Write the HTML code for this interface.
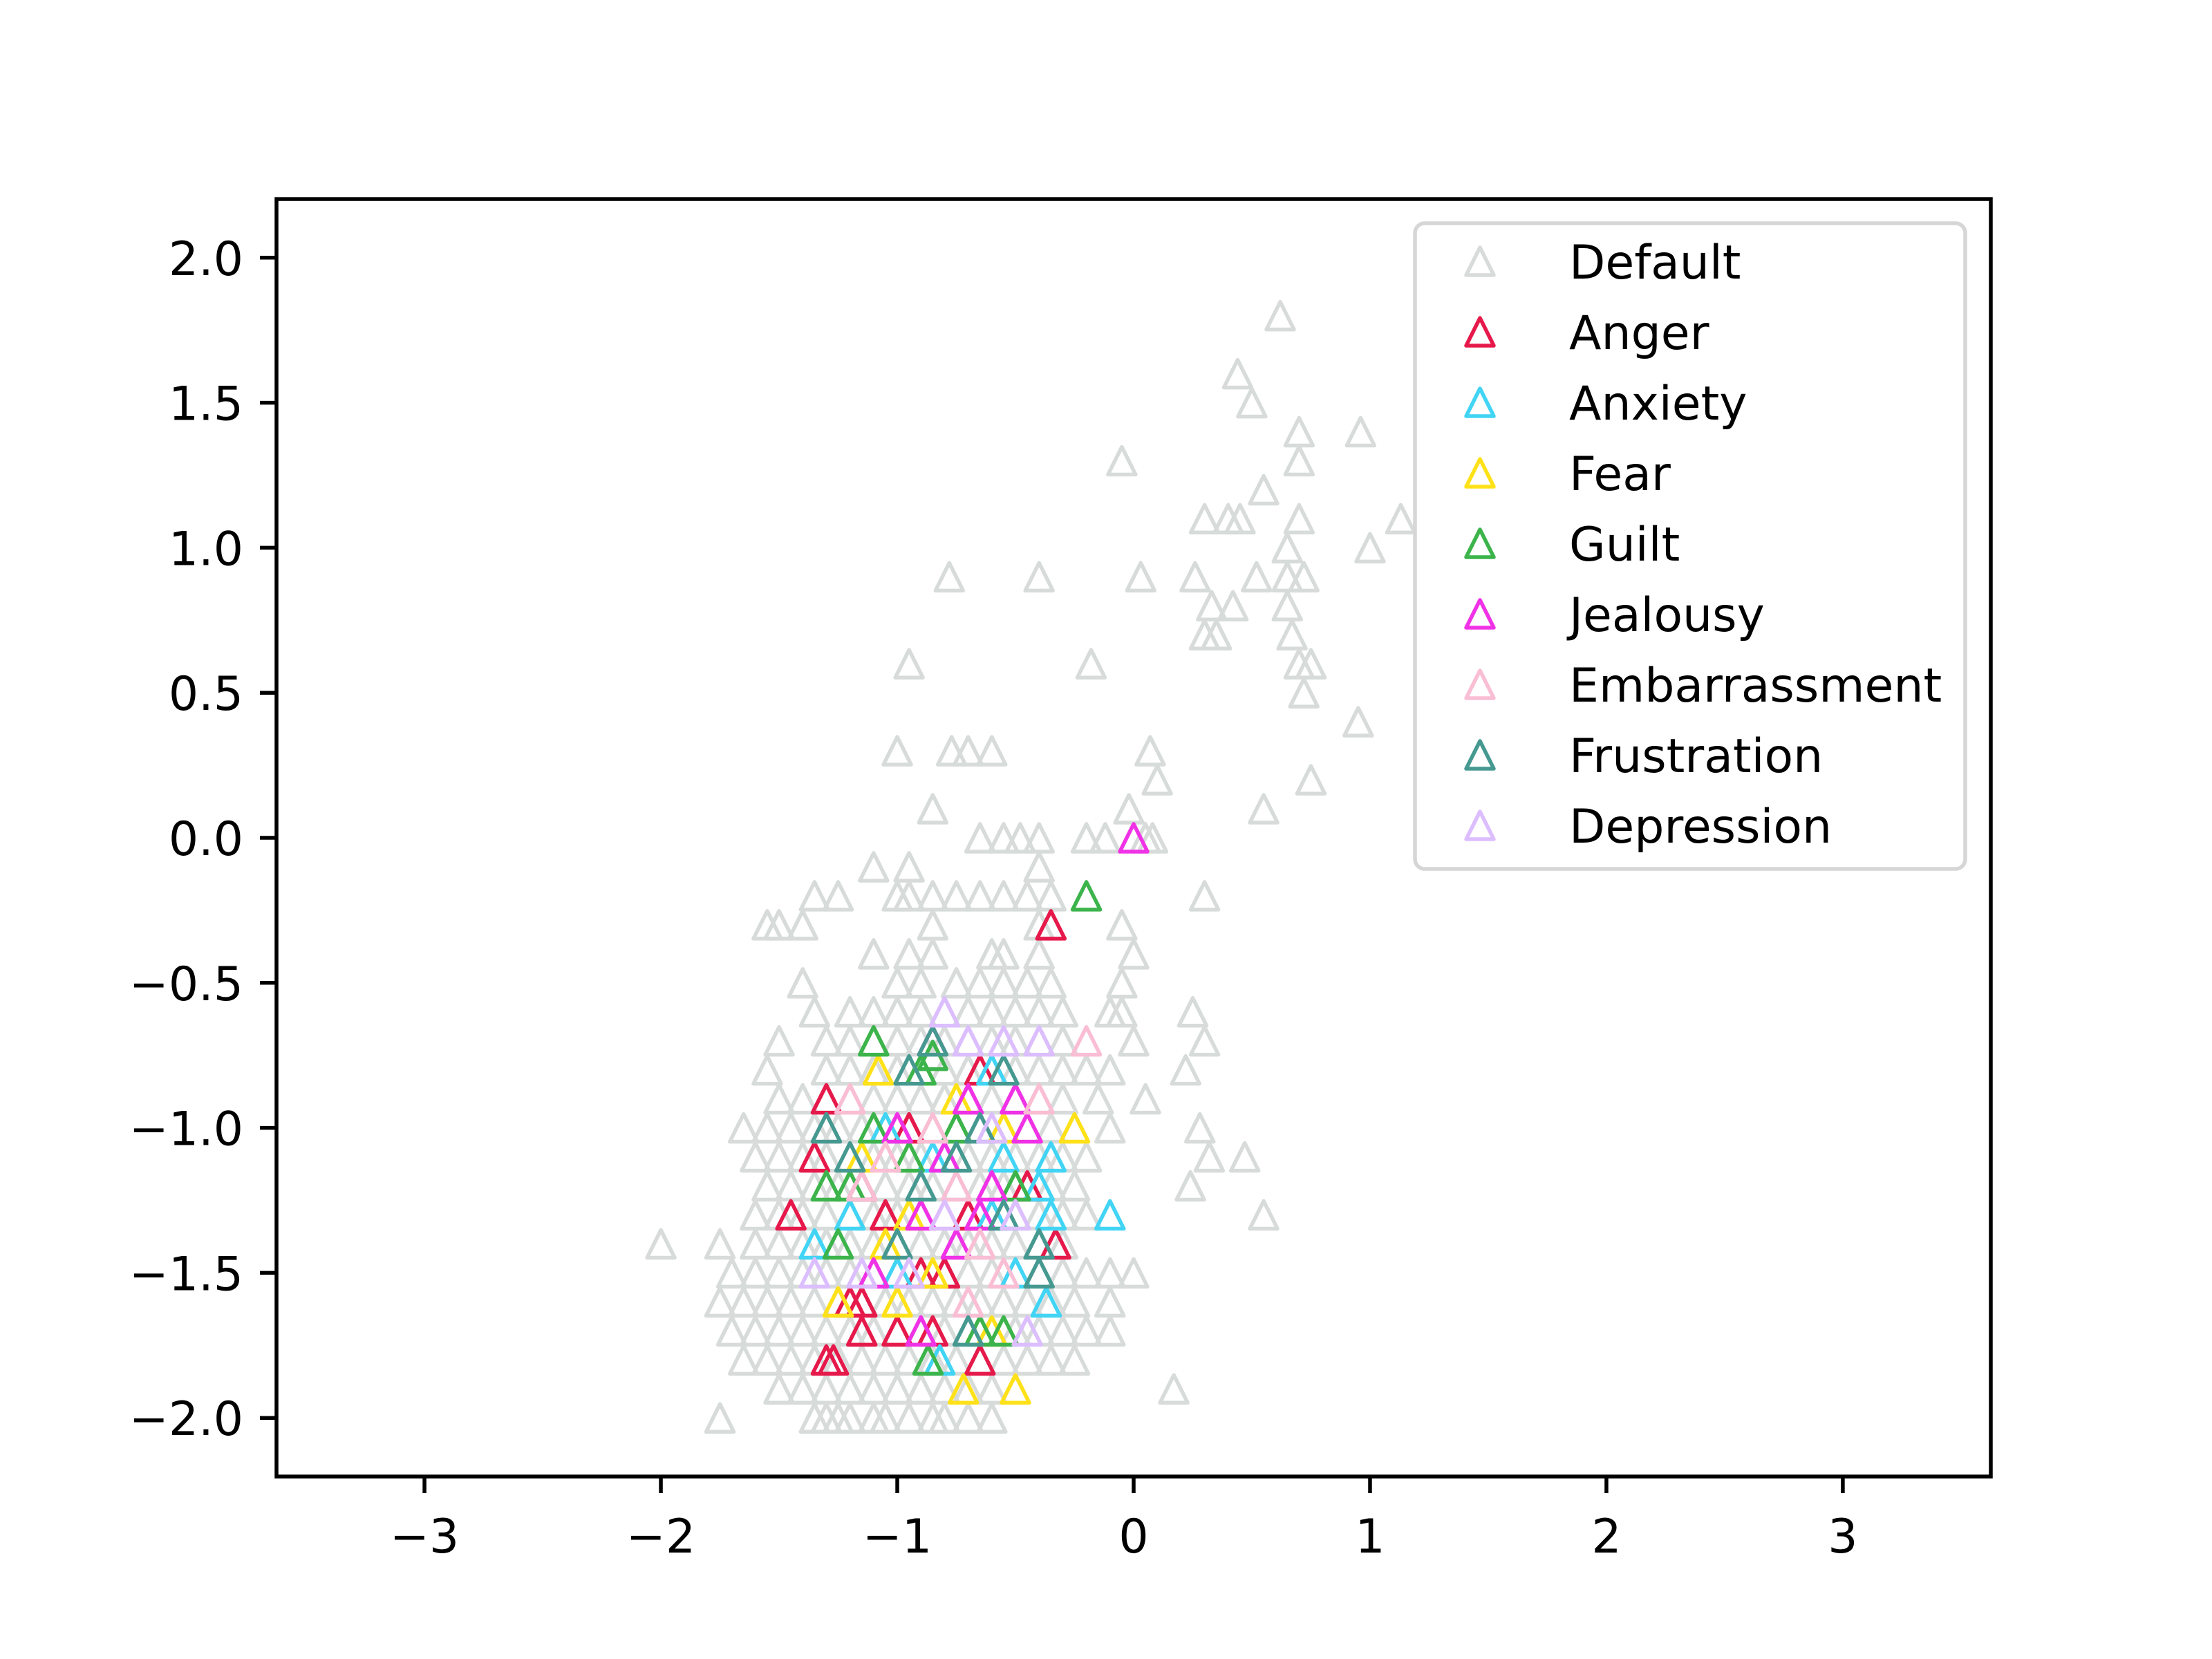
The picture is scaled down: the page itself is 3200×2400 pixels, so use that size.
<!DOCTYPE html>
<html><head><meta charset="utf-8"><style>
html,body{margin:0;padding:0;background:#fff;}
svg{display:block;}
text{font-family:"DejaVu Sans","Liberation Sans",sans-serif;}
</style></head><body>
<svg id="chart" width="3200" height="2400" viewBox="0 0 3200 2400" xmlns="http://www.w3.org/2000/svg">
<rect width="3200" height="2400" fill="#fff"/>
<g id="marks"></g>
<g id="axes"></g>
<g id="legend"></g>
</svg>
<script>
const xTicks = [-3,-2,-1,0,1,2,3];
const xTickLabels = ["\u22123","\u22122","\u22121","0","1","2","3"];
const yTicks = [2.0,1.5,1.0,0.5,0.0,-0.5,-1.0,-1.5,-2.0];
const yTickLabels = ["2.0","1.5","1.0","0.5","0.0","\u22120.5","\u22121.0","\u22121.5","\u22122.0"];
const seriesNames = ["Default","Anger","Anxiety","Fear","Guilt","Jealousy","Embarrassment","Frustration","Depression"];
const seriesColors = ["#d7dbda","#e6194b","#42d4f4","#ffe119","#3cb44b","#f032e6","#fabed4","#469990","#dcbeff"];

const defaultPoints = [
[0.62,1.8],[0.44,1.6],[0.5,1.5],[0.7,1.4],[0.96,1.4],[-0.05,1.3],[0.7,1.3],[0.55,1.2],[0.3,1.1],[0.4,1.1],[0.45,1.1],[0.7,1.1],[1.13,1.1],[0.65,1.0],[1.0,1.0],
[-0.78,0.9],[-0.4,0.9],[0.03,0.9],[0.26,0.9],[0.52,0.9],[0.65,0.9],[0.72,0.9],[0.33,0.8],[0.42,0.8],[0.65,0.8],[0.3,0.7],[0.35,0.7],[0.67,0.7],
[-0.95,0.6],[-0.18,0.6],[0.7,0.6],[0.75,0.6],[0.72,0.5],[0.95,0.4],[-1.0,0.3],[-0.77,0.3],[-0.7,0.3],[-0.6,0.3],[0.07,0.3],[0.1,0.2],[0.75,0.2],
[-0.85,0.1],[0.55,0.1],[-0.02,0.1],[-0.65,0],[-0.55,0],[-0.48,0],[-0.4,0],[-0.2,0],[-0.12,0],[0.05,0],[0.08,0],
[-1.1,-0.1],[-0.95,-0.1],[-0.4,-0.1],
[-1.35,-0.2],[-1.25,-0.2],[-1.0,-0.2],[-0.95,-0.2],[-0.85,-0.2],[-0.75,-0.2],[-0.65,-0.2],[-0.55,-0.2],[-0.45,-0.2],[-0.35,-0.2],[0.3,-0.2],
[-1.55,-0.3],[-1.5,-0.3],[-1.4,-0.3],[-0.85,-0.3],[-0.4,-0.3],[-0.05,-0.3],
[-1.1,-0.4],[-0.95,-0.4],[-0.85,-0.4],[-0.6,-0.4],[-0.55,-0.4],[-0.4,-0.4],[0.0,-0.4],
[-1.4,-0.5],[-1.0,-0.5],[-0.9,-0.5],[-0.75,-0.5],[-0.65,-0.5],[-0.55,-0.5],[-0.45,-0.5],[-0.35,-0.5],[-0.05,-0.5],
[-1.35,-0.6],[-1.2,-0.6],[-1.1,-0.6],[-1.0,-0.6],[-0.9,-0.6],[-0.8,-0.6],[-0.7,-0.6],[-0.6,-0.6],[-0.5,-0.6],[-0.4,-0.6],[-0.3,-0.6],[-0.1,-0.6],[-0.05,-0.6],[0.25,-0.6],
[-1.5,-0.7],[-1.3,-0.7],[-1.2,-0.7],[-1.1,-0.7],[-1.0,-0.7],[-0.9,-0.7],[-0.8,-0.7],[-0.7,-0.7],[-0.6,-0.7],[-0.5,-0.7],[-0.4,-0.7],[-0.3,-0.7],[0.0,-0.7],[0.3,-0.7],
[-1.55,-0.8],[-1.3,-0.8],[-1.2,-0.8],[-1.1,-0.8],[-1.0,-0.8],[-0.9,-0.8],[-0.8,-0.8],[-0.7,-0.8],[-0.6,-0.8],[-0.5,-0.8],[-0.4,-0.8],[-0.3,-0.8],[-0.2,-0.8],[-0.1,-0.8],[0.22,-0.8],
[-1.5,-0.9],[-1.4,-0.9],[-1.3,-0.9],[-1.2,-0.9],[-1.1,-0.9],[-1.0,-0.9],[-0.9,-0.9],[-0.8,-0.9],[-0.7,-0.9],[-0.6,-0.9],[-0.5,-0.9],[-0.4,-0.9],[-0.3,-0.9],[-0.15,-0.9],[0.05,-0.9],
[-1.65,-1.0],[-1.55,-1.0],[-1.45,-1.0],[-1.35,-1.0],[-1.25,-1.0],[-1.15,-1.0],[-1.05,-1.0],[-0.95,-1.0],[-0.85,-1.0],[-0.75,-1.0],[-0.65,-1.0],[-0.55,-1.0],[-0.45,-1.0],[-0.35,-1.0],[-0.25,-1.0],[-0.1,-1.0],[0.28,-1.0],
[-1.6,-1.1],[-1.5,-1.1],[-1.4,-1.1],[-1.3,-1.1],[-1.2,-1.1],[-1.1,-1.1],[-1.0,-1.1],[-0.9,-1.1],[-0.8,-1.1],[-0.7,-1.1],[-0.6,-1.1],[-0.5,-1.1],[-0.4,-1.1],[-0.3,-1.1],[-0.2,-1.1],[0.32,-1.1],[0.47,-1.1],
[-1.55,-1.2],[-1.45,-1.2],[-1.35,-1.2],[-1.25,-1.2],[-1.15,-1.2],[-1.05,-1.2],[-0.95,-1.2],[-0.85,-1.2],[-0.75,-1.2],[-0.65,-1.2],[-0.55,-1.2],[-0.45,-1.2],[-0.35,-1.2],[-0.25,-1.2],[0.24,-1.2],
[-1.6,-1.3],[-1.5,-1.3],[-1.4,-1.3],[-1.3,-1.3],[-1.2,-1.3],[-1.1,-1.3],[-1.0,-1.3],[-0.9,-1.3],[-0.8,-1.3],[-0.7,-1.3],[-0.6,-1.3],[-0.5,-1.3],[-0.4,-1.3],[-0.3,-1.3],[-0.2,-1.3],[0.55,-1.3],
[-2.0,-1.4],[-1.75,-1.4],[-1.6,-1.4],[-1.5,-1.4],[-1.4,-1.4],[-1.3,-1.4],[-1.2,-1.4],[-1.1,-1.4],[-1.0,-1.4],[-0.9,-1.4],[-0.8,-1.4],[-0.7,-1.4],[-0.6,-1.4],[-0.5,-1.4],[-0.4,-1.4],[-0.3,-1.4],
[-1.7,-1.5],[-1.6,-1.5],[-1.5,-1.5],[-1.4,-1.5],[-1.3,-1.5],[-1.2,-1.5],[-1.1,-1.5],[-1.0,-1.5],[-0.9,-1.5],[-0.8,-1.5],[-0.7,-1.5],[-0.6,-1.5],[-0.5,-1.5],[-0.4,-1.5],[-0.3,-1.5],[-0.2,-1.5],[-0.1,-1.5],[0.0,-1.5],
[-1.75,-1.6],[-1.65,-1.6],[-1.55,-1.6],[-1.45,-1.6],[-1.35,-1.6],[-1.25,-1.6],[-1.15,-1.6],[-1.05,-1.6],[-0.95,-1.6],[-0.85,-1.6],[-0.75,-1.6],[-0.65,-1.6],[-0.55,-1.6],[-0.45,-1.6],[-0.35,-1.6],[-0.25,-1.6],[-0.1,-1.6],
[-1.7,-1.7],[-1.6,-1.7],[-1.5,-1.7],[-1.4,-1.7],[-1.3,-1.7],[-1.2,-1.7],[-1.1,-1.7],[-1.0,-1.7],[-0.9,-1.7],[-0.8,-1.7],[-0.7,-1.7],[-0.6,-1.7],[-0.5,-1.7],[-0.4,-1.7],[-0.3,-1.7],[-0.2,-1.7],[-0.1,-1.7],
[-1.65,-1.8],[-1.55,-1.8],[-1.45,-1.8],[-1.35,-1.8],[-1.25,-1.8],[-1.15,-1.8],[-1.05,-1.8],[-0.95,-1.8],[-0.85,-1.8],[-0.75,-1.8],[-0.65,-1.8],[-0.55,-1.8],[-0.45,-1.8],[-0.35,-1.8],[-0.25,-1.8],
[-1.5,-1.9],[-1.4,-1.9],[-1.3,-1.9],[-1.2,-1.9],[-1.1,-1.9],[-1.0,-1.9],[-0.9,-1.9],[-0.8,-1.9],[-0.7,-1.9],[-0.6,-1.9],[-0.5,-1.9],[0.17,-1.9],
[-1.75,-2.0],[-1.35,-2.0],[-1.3,-2.0],[-1.25,-2.0],[-1.2,-2.0],[-1.1,-2.0],[-1.05,-2.0],[-0.95,-2.0],[-0.85,-2.0],[-0.8,-2.0],[-0.7,-2.0],[-0.6,-2.0]
];
const angerPoints = [[-0.35,-0.3],[-1.3,-0.9],[-1.35,-1.1],[-1.45,-1.3],[-1.15,-1.2],[-1.05,-1.3],[-0.95,-1.0],[-0.9,-1.5],[-1.2,-1.6],[-1.15,-1.6],[-1.15,-1.7],[-1.0,-1.7],[-0.85,-1.7],[-0.65,-1.8],[-1.3,-1.8],[-1.27,-1.8],[-0.33,-1.4],[-0.45,-1.2],[-0.65,-0.8],[-0.7,-1.3],[-0.8,-1.5]];
const anxietyPoints = [[-0.1,-1.3],[-0.35,-1.1],[-0.35,-1.3],[-0.4,-1.2],[-0.37,-1.6],[-1.35,-1.4],[-1.2,-1.3],[-0.82,-1.8],[-0.6,-1.3],[-0.6,-0.8],[-0.55,-1.1],[-0.85,-1.1],[-1.0,-1.5],[-0.5,-1.5],[-1.05,-1.0]];
const fearPoints = [[-0.25,-1.0],[-0.5,-1.9],[-0.72,-1.9],[-1.08,-0.8],[-1.25,-1.6],[-1.0,-1.6],[-0.85,-1.5],[-1.15,-1.1],[-0.75,-0.9],[-0.55,-1.0],[-0.95,-1.3],[-0.6,-1.7],[-1.05,-1.4]];
const guiltPoints = [[-0.2,-0.2],[-1.1,-0.7],[-0.9,-0.8],[-0.85,-0.75],[-1.2,-1.2],[-1.25,-1.4],[-1.1,-1.0],[-0.87,-1.8],[-0.55,-1.7],[-0.65,-1.7],[-0.95,-1.1],[-0.5,-1.2],[-1.3,-1.2],[-0.75,-1.0]];
const jealousyPoints = [[0.0,0.0],[-0.85,-0.7],[-0.5,-0.9],[-0.45,-1.0],[-0.7,-0.9],[-0.65,-1.3],[-0.75,-1.4],[-1.0,-1.0],[-1.1,-1.5],[-0.9,-1.7],[-0.8,-1.1],[-0.6,-1.2],[-0.9,-1.3]];
const embarrassmentPoints = [[-0.2,-0.7],[-1.15,-1.2],[-1.2,-0.9],[-0.4,-0.9],[-0.7,-1.6],[-0.65,-1.4],[-0.75,-1.2],[-1.05,-1.1],[-0.85,-1.0],[-0.55,-1.5],[-1.3,-1.0]];
const frustrationPoints = [[-0.85,-0.7],[-0.95,-0.8],[-1.3,-1.0],[-0.65,-1.0],[-0.4,-1.5],[-0.4,-1.4],[-0.7,-1.7],[-0.9,-1.2],[-1.0,-1.4],[-0.55,-0.8],[-1.2,-1.1],[-0.75,-1.1],[-0.55,-1.3]];
const depressionPoints = [[-0.8,-0.6],[-0.7,-0.7],[-0.55,-0.7],[-0.4,-0.7],[-1.35,-1.5],[-0.45,-1.7],[-0.5,-1.3],[-0.8,-1.3],[-0.95,-1.5],[-0.6,-1.0],[-1.15,-1.5]];

const allSeries = [defaultPoints,angerPoints,anxietyPoints,fearPoints,guiltPoints,jealousyPoints,embarrassmentPoints,frustrationPoints,depressionPoints];

const NS = "http://www.w3.org/2000/svg";
const L = 400, R = 2880, T = 288, B = 2136;
const XMIN = -3.626, XMAX = 3.626, YMIN = -2.202, YMAX = 2.202;
function sx(v){ return L + (v - XMIN) / (XMAX - XMIN) * (R - L); }
function sy(v){ return B - (v - YMIN) / (YMAX - YMIN) * (B - T); }
function mk(tag, attrs){ const e = document.createElementNS(NS, tag); for (const k in attrs) e.setAttribute(k, attrs[k]); return e; }
function tri(cx, cy, r){ return `M${cx},${cy-r} L${cx-r},${cy+r} L${cx+r},${cy+r} Z`; }

const marks = document.getElementById('marks');
allSeries.forEach((pts, si) => {
  const g = mk('g', {});
  
  
  pts.forEach(p => {
    const path = mk('path', {d: tri(sx(p[0]), sy(p[1]), 20), fill: 'none', stroke: seriesColors[si], 'stroke-width': 5.5, 'stroke-linejoin': 'round'});
    
    
    g.appendChild(path);
  });
  marks.appendChild(g);
});

const axes = document.getElementById('axes');
const frame = mk('rect', {x: L, y: T, width: R - L, height: B - T, fill: 'none', stroke: '#000', 'stroke-width': 5.5});


axes.appendChild(frame);
xTicks.forEach((v, i) => {
  const x = sx(v);
  const t = mk('line', {x1: x, x2: x, y1: B, y2: B + 24, stroke: '#000', 'stroke-width': 5.5});
  
  
  axes.appendChild(t);
  const lb = mk('text', {x: x, y: B + 110, 'font-size': 68, 'text-anchor': 'middle', fill: '#000'});
  lb.textContent = xTickLabels[i];
  
  
  axes.appendChild(lb);
});
yTicks.forEach((v, i) => {
  const y = sy(v);
  const t = mk('line', {x1: L - 24, x2: L, y1: y, y2: y, stroke: '#000', 'stroke-width': 5.5});
  
  
  axes.appendChild(t);
  const lb = mk('text', {x: L - 48, y: y + 25, 'font-size': 68, 'text-anchor': 'end', fill: '#000'});
  lb.textContent = yTickLabels[i];
  
  
  axes.appendChild(lb);
});

const legend = document.getElementById('legend');
const box = mk('rect', {x: 2047, y: 323, width: 796, height: 934, rx: 14, fill: '#fff', 'fill-opacity': 0.8, stroke: '#d6d6d6', 'stroke-width': 5.5});


legend.appendChild(box);
seriesNames.forEach((n, i) => {
  const cy = 378 + i * 102;
  const g = mk('g', {});
  
  
  const m = mk('path', {d: tri(2141, cy, 20), fill: 'none', stroke: seriesColors[i], 'stroke-width': 5.5, 'stroke-linejoin': 'round'});
  
  
  g.appendChild(m);
  const tx = mk('text', {x: 2270, y: cy + 25, 'font-size': 68, fill: '#000'});
  tx.textContent = n;
  
  
  g.appendChild(tx);
  legend.appendChild(g);
});
</script>
</body></html>
